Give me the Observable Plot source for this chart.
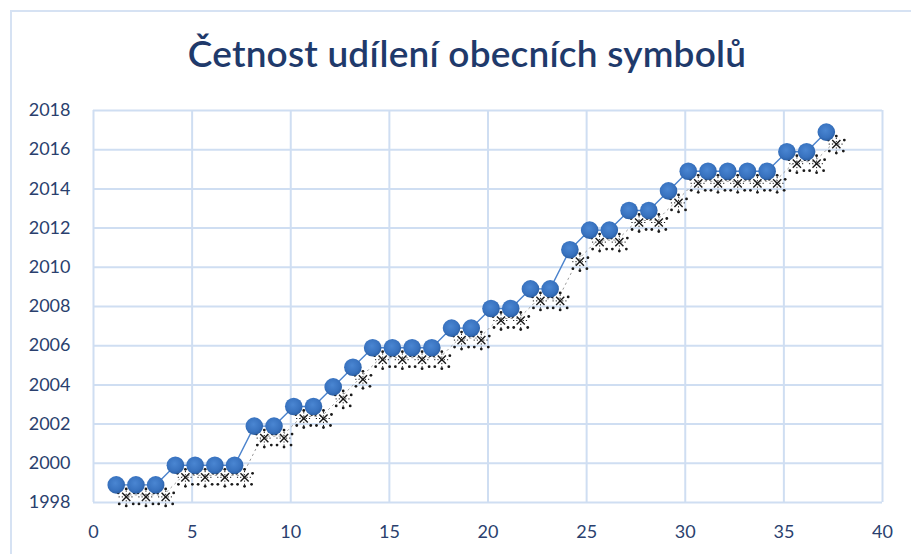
<!DOCTYPE html>
<html>
<head>
<meta charset="utf-8">
<script src="https://cdn.jsdelivr.net/npm/d3@7"></script>
<script src="https://cdn.jsdelivr.net/npm/@observablehq/plot@0.6"></script>
<style>
  html, body { margin: 0; padding: 0; background: #fff; }
  #wrap { position: relative; width: 911px; height: 554px; overflow: hidden; }
  #frame { position: absolute; left: 10px; top: 10px; width: 920px; height: 560px;
           border-top: 2px solid #d6e2f3; border-left: 2px solid #d6e2f3; box-sizing: border-box; }
  #title { position: absolute; left: 0; width: 934px; top: 30px; text-align: center;
           font-family: Lato, "Open Sans", sans-serif; font-weight: 600; font-size: 37px;
           color: #1f3a6b; letter-spacing: 0.2px; }
  #chart { position: absolute; left: 0; top: 0; }
</style>
</head>
<body>
<div id="wrap">
  <div id="frame"></div>
  <div id="chart"></div>
  <div id="title">Četnost udílení obecních symbolů</div>
</div>
<script>
// ---- data ----
const order = [1,2,3,4,5,6,7,8,9,10,11,12,13,14,15,16,17,18,19,20,21,22,23,24,25,26,27,28,29,30,31,32,33,34,35,36,37];
const years = [1999,1999,1999,2000,2000,2000,2000,2002,2002,2003,2003,2004,2005,2006,2006,2006,2006,2007,2007,2008,2008,2009,2009,2011,2012,2012,2013,2013,2014,2015,2015,2015,2015,2015,2016,2016,2017];
const xTicks = [0,5,10,15,20,25,30,35,40];
const yTicks = [1998,2000,2002,2004,2006,2008,2010,2012,2014,2016,2018];

const rows = order.map((x, i) => ({x, y: years[i]}));

// shadow dot pattern offsets (style only)
const sx = 10, sy = 12;
const speck = [[0,-8],[-8,-4],[8,-4],[-7,7],[7,7],[0,9]];

const grid = "#cfdef2";
const ink = "#2a3f6e";
const marks = [
  Plot.gridX(xTicks, {stroke: grid, strokeOpacity: 1, strokeWidth: 2}),
  Plot.gridY(yTicks, {stroke: grid, strokeOpacity: 1, strokeWidth: 2}),
  Plot.axisX({ticks: xTicks, tickSize: 0, tickPadding: 23, fontSize: 18, fill: ink, label: null, fontFamily: "Lato, sans-serif"}),
  Plot.axisY({ticks: yTicks, tickSize: 0, tickPadding: 23, fontSize: 18, fill: ink, label: null, tickFormat: d => String(d), fontFamily: "Lato, sans-serif"}),
  Plot.line(rows, {x: "x", y: "y", stroke: "#9a9a9a", strokeWidth: 1, strokeDasharray: "1.5 4", dx: 3 + sx - 2, dy: 2 + sy - 2}),
  Plot.line(rows, {x: "x", y: "y", stroke: "#4a82cc", strokeWidth: 1.4, dx: 3, dy: 2}),
  Plot.dot(rows, {x: "x", y: "y", symbol: "times", r: 3.8, stroke: "#1a1a1a", strokeWidth: 1.4, dx: 3 + sx, dy: 2 + sy}),
  Plot.dot(rows, {x: "x", y: "y", symbol: "plus", r: 5, stroke: "#1a1a1a", strokeWidth: 1, strokeDasharray: "1.2 2", dx: 3 + sx, dy: 2 + sy}),
  ...speck.map(([ox, oy]) => Plot.dot(rows, {x: "x", y: "y", r: 1.4, fill: "#1a1a1a", dx: 3 + sx + ox, dy: 2 + sy + oy})),
  Plot.dot(rows, {x: "x", y: "y", r: 8.8, fill: "url(#ball)", stroke: "none", dx: 3, dy: 2})
];

const chart = Plot.plot({
  width: 911, height: 554,
  marginLeft: 93, marginRight: 29, marginTop: 110, marginBottom: 52,
  style: {background: "transparent", overflow: "visible"},
  x: {domain: [0, 40]},
  y: {domain: [1998, 2018]},
  marks
});

const defs = document.createElementNS("http://www.w3.org/2000/svg", "defs");
defs.innerHTML = `<radialGradient id="ball" cx="45%" cy="40%" r="60%">
  <stop offset="0%" stop-color="#4a86d2"/>
  <stop offset="70%" stop-color="#3872bf"/>
  <stop offset="100%" stop-color="#2b5fa4"/>
</radialGradient>`;
chart.insertBefore(defs, chart.firstChild);
document.getElementById("chart").appendChild(chart);
</script>
</body>
</html>
